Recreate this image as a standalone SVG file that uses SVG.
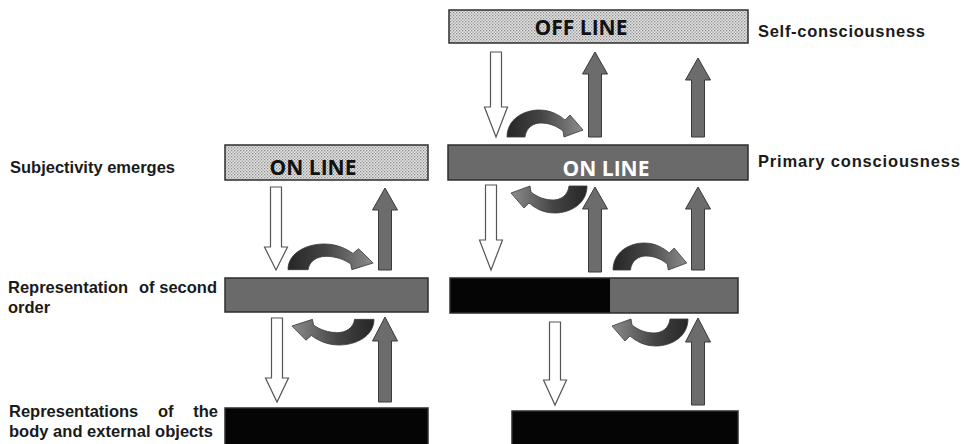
<svg xmlns="http://www.w3.org/2000/svg" width="964" height="444" viewBox="0 0 964 444">
<defs>
<pattern id="dots" width="3" height="3" patternUnits="userSpaceOnUse">
<rect width="3" height="3" fill="#e4e4e4"/>
<rect x="0" y="0" width="1.3" height="1.3" fill="#8a8a8a"/>
<rect x="1.5" y="1.5" width="1.3" height="1.3" fill="#9a9a9a"/>
</pattern>
<linearGradient id="curveGrad" x1="0" y1="0" x2="1" y2="0">
<stop offset="0" stop-color="#262626"/>
<stop offset="0.45" stop-color="#454545"/>
<stop offset="1" stop-color="#8c8c8c"/>
</linearGradient>
<path id="arch" d="M0,27 C0,9 17,0 32,0 C44,0 52,5 58,10 L63,5 L76,20 L57,27 L56,21 C50,16 42,13 34,13 C26,13 19,18 18,27 Z"/>
</defs>
<style>
.lbl{font-family:"Liberation Sans",Arial,sans-serif;font-weight:bold;font-size:16.5px;fill:#1a1a1a}
.box{stroke:#2e2e2e;stroke-width:1.5}
.dotted{fill:url(#dots)}
.gray{fill:#6a6a6a}
.black{fill:#050505}
.boxtxt{font-family:"Open Sans","Liberation Sans",sans-serif;font-weight:bold;font-size:21px;text-anchor:middle}
.up{fill:#6c6c6c;stroke:#3a3a3a;stroke-width:1}
.down{fill:#ffffff;stroke:#555555;stroke-width:1.2}
.curve{fill:url(#curveGrad);stroke:#3a3a3a;stroke-width:0.8}
</style>
<rect width="964" height="444" fill="#ffffff"/>

<g id="self-consciousness">
<rect class="box dotted" x="449" y="10" width="299" height="33"/>
<text class="boxtxt" x="581" y="35" fill="#111">OFF LINE</text>
<text class="lbl" x="758" y="37" textLength="167" lengthAdjust="spacing">Self-consciousness</text>
</g>

<g id="primary-consciousness">
<rect class="box gray" x="448" y="145" width="300" height="35"/>
<text class="boxtxt" x="606" y="176" fill="#ffffff">ON LINE</text>
<text class="lbl" x="758" y="167" textLength="202" lengthAdjust="spacing">Primary consciousness</text>
</g>

<g id="subjectivity-emerges">
<rect class="box dotted" x="225" y="145" width="203" height="35"/>
<text class="boxtxt" x="313" y="175" fill="#111">ON LINE</text>
<text class="lbl" x="10" y="173" textLength="165" lengthAdjust="spacing">Subjectivity emerges</text>
</g>

<g id="second-order-left">
<rect class="box gray" x="225" y="278" width="203" height="34"/>
<text class="lbl" y="293"><tspan x="8">Representation</tspan><tspan x="139">of</tspan><tspan x="217" text-anchor="end">second</tspan></text>
<text class="lbl" x="8" y="313">order</text>
</g>

<g id="second-order-right">
<rect class="black" x="450" y="278" width="160" height="35"/>
<rect class="gray" x="610" y="278" width="128" height="35"/>
<rect x="450" y="278" width="288" height="35" fill="none" stroke="#2e2e2e" stroke-width="1.5"/>
</g>

<g id="body-left">
<rect class="box black" x="225" y="408" width="203" height="40"/>
<text class="lbl" y="417"><tspan x="9">Representations</tspan><tspan x="158">of</tspan><tspan x="218" text-anchor="end">the</tspan></text>
<text class="lbl" x="9" y="437" textLength="204" lengthAdjust="spacing">body and external objects</text>
</g>

<g id="body-right">
<rect class="box black" x="512" y="411" width="226" height="40"/>
</g>

<g id="connectors">
<!-- white down arrows -->
<path class="down" d="M490.5,52 H501.5 V107 H507.5 L496,137 L484.5,107 H490.5 Z"/>
<path class="down" d="M485.5,185 H496.5 V240 H502.5 L491,270 L479.5,240 H485.5 Z"/>
<path class="down" d="M270.5,187 H281.5 V247 H287.5 L276,270 L264.5,247 H270.5 Z"/>
<path class="down" d="M271.5,318 H282.5 V378 H288.5 L277,402 L265.5,378 H271.5 Z"/>
<path class="down" d="M549.5,322 H560.5 V380 H566.5 L555,405 L543.5,380 H549.5 Z"/>
<!-- gray up arrows -->
<path class="up" d="M595,52 L607.5,74 H601.5 V137 H588.5 V74 H582.5 Z"/>
<path class="up" d="M698,58 L710.5,80 H704.5 V137 H691.5 V80 H685.5 Z"/>
<path class="up" d="M595,187 L607.5,209 H601.5 V272 H588.5 V209 H582.5 Z"/>
<path class="up" d="M698,187 L710.5,209 H704.5 V270 H691.5 V209 H685.5 Z"/>
<path class="up" d="M385,188 L397.5,210 H391.5 V270 H378.5 V210 H372.5 Z"/>
<path class="up" d="M385,317 L397.5,341 H391.5 V402 H378.5 V341 H372.5 Z"/>
<path class="up" d="M698,318 L710.5,342 H704.5 V405 H691.5 V342 H685.5 Z"/>
<!-- curved arrows -->
<use href="#arch" class="curve" transform="translate(507,110)"/>
<use href="#arch" class="curve" transform="translate(288,244) scale(1.12,0.95)"/>
<use href="#arch" class="curve" transform="translate(613,243) scale(0.97,1)"/>
<use href="#arch" class="curve" transform="translate(587,213) rotate(180)"/>
<use href="#arch" class="curve" transform="translate(374,345) rotate(180) scale(1.08,0.95)"/>
<use href="#arch" class="curve" transform="translate(688,346) rotate(180)"/>
</g>
</svg>
